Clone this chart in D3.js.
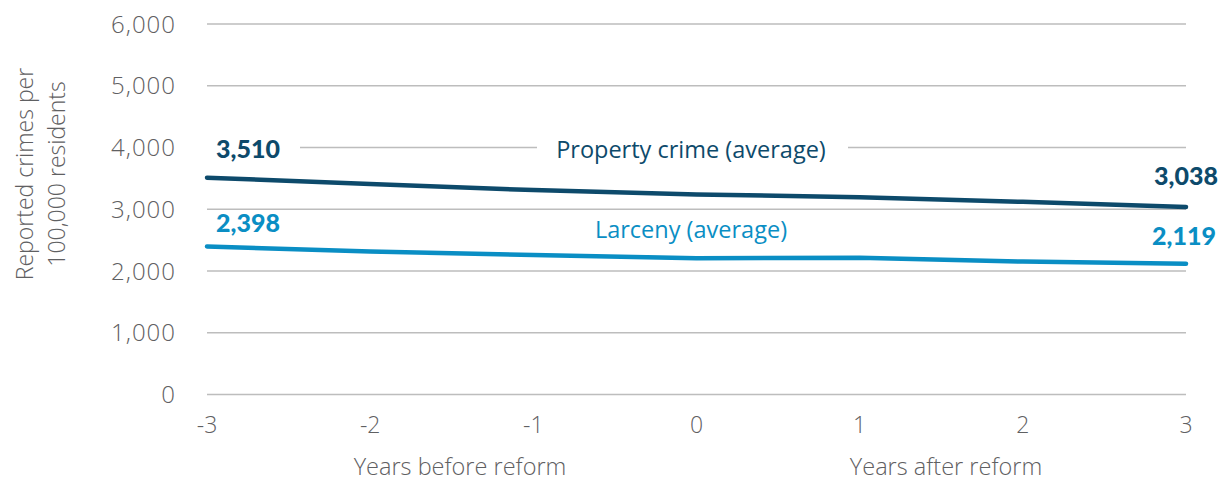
<!DOCTYPE html>
<html>
<head>
<meta charset="utf-8">
<script src="https://cdn.jsdelivr.net/npm/d3@7"></script>
<style>
  body { margin: 0; background: #fff; }
  text { font-family: "Open Sans", Lato, sans-serif; }
</style>
</head>
<body>
<div id="chart"></div>
<script>
// data
const years = [-3, -2, -1, 0, 1, 2, 3];
const propertyCrime = [3510, 3410, 3310, 3240, 3195, 3120, 3038];
const larceny = [2398, 2315, 2260, 2207, 2215, 2152, 2119];
const yTicks = [0, 1000, 2000, 3000, 4000, 5000, 6000];

const width = 1221, height = 482;
const margin = { top: 24, right: 35, bottom: 88, left: 207 };

const svg = d3.select("#chart").append("svg")
    .attr("width", width)
    .attr("height", height);

const x = d3.scaleLinear()
    .domain([-3, 3])
    .range([margin.left, width - margin.right]);

const y = d3.scaleLinear()
    .domain([0, 6000])
    .range([height - margin.bottom + 0.5, margin.top]);

const gray = "#5f6062";

// grid lines (4,000 is broken around the series label)
svg.append("g")
    .selectAll("line")
    .data(yTicks.filter(d => d !== 4000))
    .enter().append("line")
    .attr("x1", margin.left)
    .attr("x2", width - margin.right)
    .attr("y1", d => y(d))
    .attr("y2", d => y(d))
    .attr("stroke", "#bdbdbd")
    .attr("stroke-width", 1.3);

svg.append("g")
    .selectAll("line")
    .data([[300, 537], [848, width - margin.right]])
    .enter().append("line")
    .attr("x1", d => d[0])
    .attr("x2", d => d[1])
    .attr("y1", y(4000))
    .attr("y2", y(4000))
    .attr("stroke", "#bdbdbd")
    .attr("stroke-width", 1.3);

// y tick labels
svg.append("g")
    .selectAll("text")
    .data(yTicks)
    .enter().append("text")
    .attr("x", 176)
    .attr("y", d => y(d))
    .attr("dy", "0.36em")
    .attr("text-anchor", "end")
    .attr("fill", gray)
    .style("font-size", "24px")
    .style("font-weight", "300")
    .style("letter-spacing", "1px")
    .text(d => d3.format(",")(d));

// x tick labels
svg.append("g")
    .selectAll("text")
    .data(years)
    .enter().append("text")
    .attr("x", d => x(d))
    .attr("y", 425)
    .attr("dy", "0.36em")
    .attr("text-anchor", "middle")
    .attr("fill", gray)
    .style("font-size", "23px")
    .style("font-weight", "300")
    .text(d => d);

// x axis titles
svg.append("text")
    .attr("x", 460).attr("y", 475)
    .attr("text-anchor", "middle")
    .attr("fill", gray)
    .style("font-size", "23.5px")
    .style("font-weight", "300")
    .text("Years before reform");

svg.append("text")
    .attr("x", 946).attr("y", 475)
    .attr("text-anchor", "middle")
    .attr("fill", gray)
    .style("font-size", "23.5px")
    .style("font-weight", "300")
    .text("Years after reform");

// y axis title
const yTitle = svg.append("text")
    .attr("transform", "translate(33,174) rotate(-90)")
    .attr("text-anchor", "middle")
    .attr("fill", gray)
    .style("font-size", "23px")
    .style("font-weight", "300");
yTitle.append("tspan").attr("x", 0).attr("dy", 0).text("Reported crimes per");
yTitle.append("tspan").attr("x", 0).attr("dy", 32).text("100,000 residents");

// lines
const line = d3.line()
    .x((d, i) => x(years[i]))
    .y(d => y(d));

const series = [
    { name: "Property crime (average)", values: propertyCrime, color: "#0d4a6b" },
    { name: "Larceny (average)", values: larceny, color: "#0a8ec4" }
];

svg.selectAll(".series")
    .data(series)
    .enter().append("path")
    .attr("class", "series")
    .attr("d", d => line(d.values))
    .attr("fill", "none")
    .attr("stroke", d => d.color)
    .attr("stroke-width", 4.5)
    .attr("stroke-linecap", "round")
    .attr("stroke-linejoin", "round");

// series name labels
svg.append("text")
    .attr("x", 691).attr("y", 158)
    .attr("text-anchor", "middle")
    .attr("fill", series[0].color)
    .style("font-size", "23.5px")
    .text(series[0].name);

svg.append("text")
    .attr("x", 691).attr("y", 238)
    .attr("text-anchor", "middle")
    .attr("fill", series[1].color)
    .style("font-size", "23.5px")
    .text(series[1].name);

// end value labels
const fmt = d3.format(",");
function valueLabel(val, xx, yy, anchor, color) {
    svg.append("text")
        .attr("x", xx).attr("y", yy)
        .attr("text-anchor", anchor)
        .attr("fill", color)
        .style("font-family", "Lato, sans-serif")
        .style("font-size", "25px")
        .style("font-weight", "900")
        .text(fmt(val));
}
valueLabel(propertyCrime[0], 216, 158, "start", series[0].color);
valueLabel(larceny[0], 216, 232, "start", series[1].color);
valueLabel(propertyCrime[6], 1218, 185, "end", series[0].color);
valueLabel(larceny[6], 1216, 245, "end", series[1].color);
</script>
</body>
</html>
